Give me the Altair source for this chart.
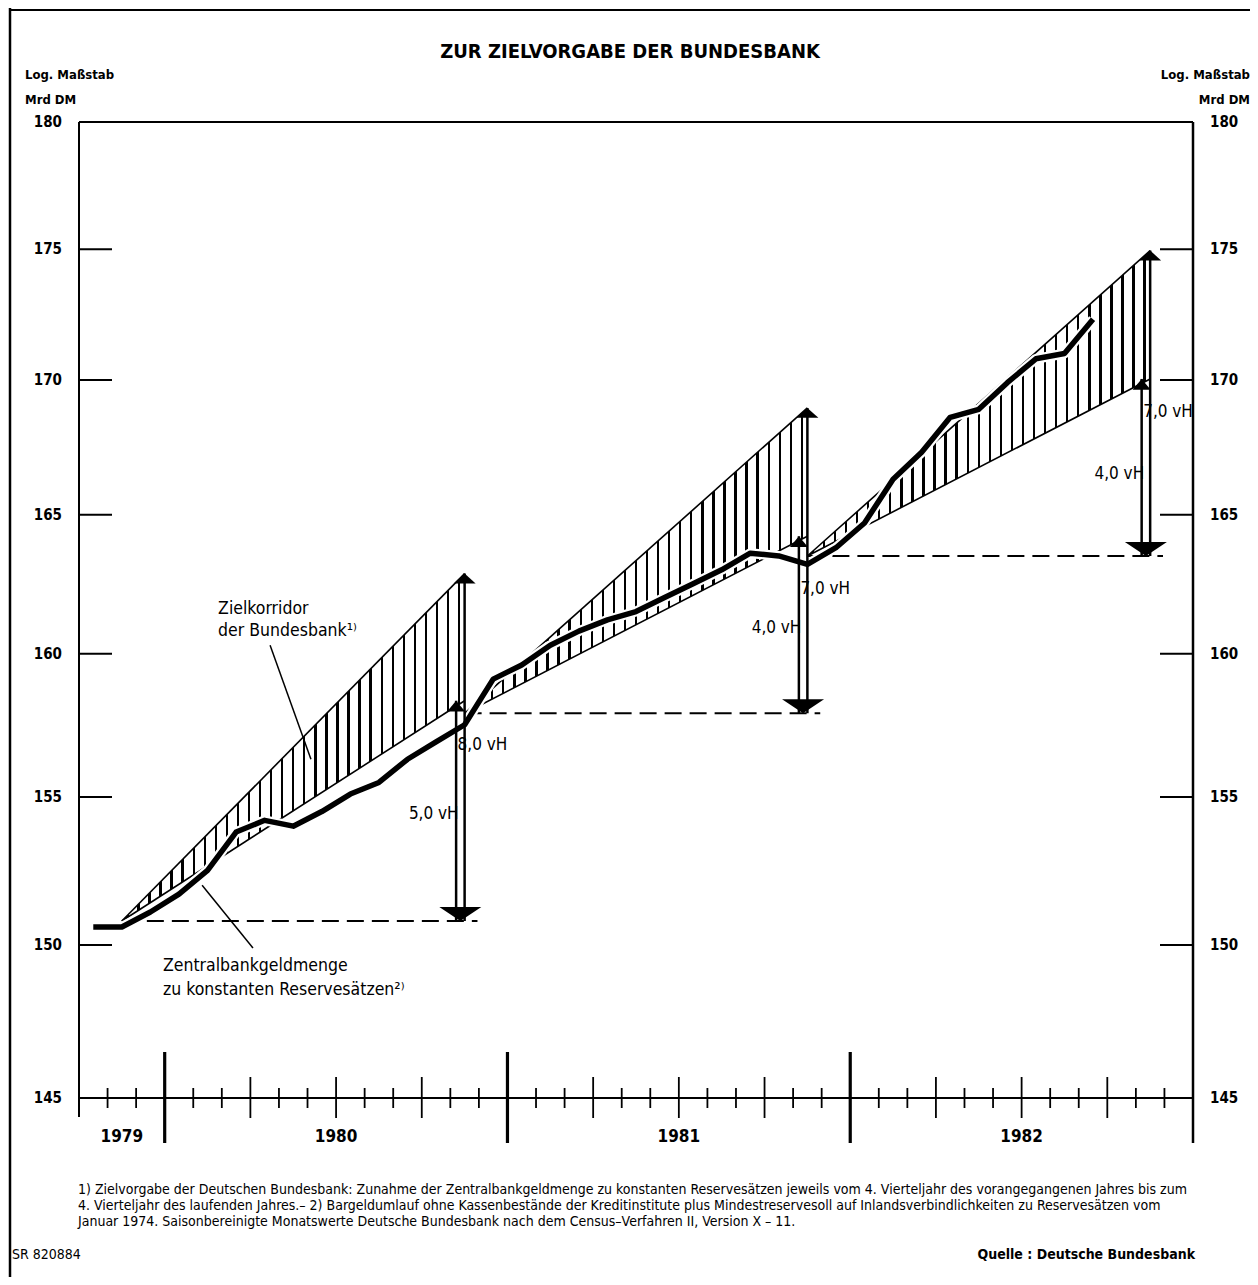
import altair as alt
import pandas as pd

# ---------------- data ----------------
months = [
    "1979-10", "1979-11", "1979-12",
    "1980-01", "1980-02", "1980-03", "1980-04", "1980-05", "1980-06",
    "1980-07", "1980-08", "1980-09", "1980-10", "1980-11", "1980-12",
    "1981-01", "1981-02", "1981-03", "1981-04", "1981-05", "1981-06",
    "1981-07", "1981-08", "1981-09", "1981-10", "1981-11", "1981-12",
    "1982-01", "1982-02", "1982-03", "1982-04", "1982-05", "1982-06",
    "1982-07", "1982-08", "1982-09",
]
zbg = [
    150.6, 150.6, 151.1,
    151.7, 152.5, 153.8, 154.2, 154.0, 154.5, 155.1, 155.5, 156.3, 156.9, 157.5, 159.1,
    159.6, 160.3, 160.8, 161.2, 161.5, 162.0, 162.5, 163.0, 163.6, 163.5, 163.2, 163.8,
    164.7, 166.3, 167.3, 168.6, 168.9, 169.9, 170.8, 171.0, 172.3,
]

corr_years = [1980, 1981, 1982]
corr_base = [150.8, 157.9, 163.5]      # level in Q4 of the preceding year
corr_low = [5.0, 4.0, 4.0]             # target growth, lower bound (vH)
corr_high = [8.0, 7.0, 7.0]            # target growth, upper bound (vH)
label_high_v = [156.8, 162.3, 168.8]   # where the upper-bound label sits
label_low_v = [154.4, 160.9, 166.5]    # where the lower-bound label sits

y_tick_values = [145, 150, 155, 160, 165, 170, 175, 180]
year_names = ["1979", "1980", "1981", "1982"]

title_text = "ZUR ZIELVORGABE DER BUNDESBANK"
unit_lines = ["Log. Maßstab", "Mrd DM"]
footnote_lines = [
    "1) Zielvorgabe der Deutschen Bundesbank: Zunahme der Zentralbankgeldmenge zu konstanten Reservesätzen jeweils vom 4. Vierteljahr des vorangegangenen Jahres bis zum",
    "4. Vierteljahr des laufenden Jahres.– 2) Bargeldumlauf ohne Kassenbestände der Kreditinstitute plus Mindestreservesoll auf Inlandsverbindlichkeiten zu Reservesätzen vom",
    "Januar 1974. Saisonbereinigte Monatswerte Deutsche Bundesbank nach dem Census–Verfahren II, Version X – 11.",
]
source_text = "Quelle : Deutsche Bundesbank"
code_text = "SR 820884"

ann_texts = ["Zielkorridor", "der Bundesbank¹⁾", "Zentralbankgeldmenge", "zu konstanten Reservesätzen²⁾"]
ann_t = [4.87, 4.87, 2.94, 2.94]
ann_v = [161.6, 160.8, 149.3, 148.5]
leader_t = [6.69, 6.09]
leader_v = [160.3, 149.9]
leader_t2 = [8.12, 4.31]
leader_v2 = [156.3, 152.0]

# ---------------- layout / style ----------------
W, H = 1114, 976
FONT = "Liberation Sans Narrow, DejaVu Sans Condensed, Arial Narrow, sans-serif"
BLACK = "#000000"


def midx(s):
    y, m = map(int, s.split("-"))
    return (y - 1979) * 12 + (m - 10)


X_SCALE = alt.Scale(domain=[0, midx("1983-01")], nice=False, zero=False)
Y_SCALE = alt.Scale(type="log", domain=[145, 180], nice=False, zero=False)


def X(field):
    return alt.X(field, type="quantitative", scale=X_SCALE, axis=None)


def Y(field):
    return alt.Y(field, type="quantitative", scale=Y_SCALE, axis=None)


# series
line_df = pd.DataFrame({"t": [midx(m) + 0.5 for m in months], "v": zbg})

# corridors
rows = []
for yr, b, lo, hi in zip(corr_years, corr_base, corr_low, corr_high):
    t0 = midx(f"{yr - 1}-11") + 0.5
    t1 = midx(f"{yr}-11") + 0.5
    rows.append({"year": yr, "t": t0, "lo": b, "hi": b})
    rows.append({"year": yr, "t": t1, "lo": b * (1 + lo / 100), "hi": b * (1 + hi / 100)})
corr_df = pd.DataFrame(rows)

end_rows = []
for yr, b, lo, hi, vh, vl in zip(corr_years, corr_base, corr_low, corr_high, label_high_v, label_low_v):
    t0 = midx(f"{yr - 1}-11") + 0.5
    t1 = midx(f"{yr}-11") + 0.5
    end_rows.append({
        "year": yr, "t0": t0, "t": t1, "t_dash": t1 + 0.45, "base": b,
        "lo": b * (1 + lo / 100), "hi": b * (1 + hi / 100),
        "txt_hi": f"{hi:.1f}".replace(".", ",") + " vH",
        "txt_lo": f"{lo:.1f}".replace(".", ",") + " vH",
        "v_hi": vh, "v_lo": vl,
    })
end_df = pd.DataFrame(end_rows)

# axis ticks
tick_rows = []
for t in range(1, midx("1983-01")):
    mon = (10 + t - 1) % 12 + 1
    kind = "year" if mon == 1 else ("quarter" if mon in (4, 7, 10) else "month")
    tick_rows.append({"t": t, "kind": kind})
tick_df = pd.DataFrame(tick_rows)

year_rows = []
for name in year_names:
    a = max(0, midx(f"{name}-01"))
    b = min(midx("1983-01"), midx(f"{int(name) + 1}-01"))
    year_rows.append({"t": (a + b) / 2, "label": name})
year_df = pd.DataFrame(year_rows)

ytick_df = pd.DataFrame({"v": y_tick_values, "label": [str(v) for v in y_tick_values]})
ytick_inner = ytick_df[(ytick_df.v > 145) & (ytick_df.v < 180)]

ann_df = pd.DataFrame({"t": ann_t, "v": ann_v, "text": ann_texts})
leader_df = pd.DataFrame({"t": leader_t, "v": leader_v, "t2": leader_t2, "v2": leader_v2})
one = pd.DataFrame({"a": [0]})

# hatch gradient (style only)
N, w = 31, 0.0068
stops = [{"offset": 0, "color": "white"}]
for k in range(N):
    c = (k + 0.5) / N
    stops += [
        {"offset": c - w / 2, "color": "white"},
        {"offset": c - w / 2, "color": "black"},
        {"offset": c + w / 2, "color": "black"},
        {"offset": c + w / 2, "color": "white"},
    ]
stops.append({"offset": 1, "color": "white"})
hatch = {"gradient": "linear", "x1": 0, "y1": 0, "x2": 1, "y2": 0, "stops": stops}

layers = []

# frame
layers.append(alt.Chart(one).mark_rule(color=BLACK, strokeWidth=2.5).encode(
    x=alt.value(-69), y=alt.value(-114), y2=alt.value(H + 187)))
layers.append(alt.Chart(one).mark_rule(color=BLACK, strokeWidth=2).encode(
    x=alt.value(-69), x2=alt.value(1173), y=alt.value(-112)))

# corridors
layers.append(alt.Chart(corr_df).mark_area(fill=hatch, opacity=1, strokeWidth=0).encode(
    x=X("t"), y=Y("lo"), y2=alt.Y2("hi"), detail="year:N"))
for fld in ["lo", "hi"]:
    layers.append(alt.Chart(corr_df).mark_line(color=BLACK, strokeWidth=1.6).encode(
        x=X("t"), y=Y(fld), detail="year:N"))

# dashed base lines
layers.append(alt.Chart(end_df).mark_rule(color=BLACK, strokeWidth=2, strokeDash=[17, 8]).encode(
    x=X("t0"), x2=alt.X2("t_dash"), y=Y("base")))

# plot frame / axes
layers.append(alt.Chart(one).mark_rule(color=BLACK, strokeWidth=2).encode(
    x=alt.value(0), y=alt.value(0), y2=alt.value(H + 19)))
layers.append(alt.Chart(one).mark_rule(color=BLACK, strokeWidth=2.5).encode(
    x=alt.value(W), y=alt.value(0), y2=alt.value(H + 45)))
layers.append(alt.Chart(one).mark_rule(color=BLACK, strokeWidth=2).encode(
    x=alt.value(0), x2=alt.value(W), y=alt.value(0)))
layers.append(alt.Chart(one).mark_rule(color=BLACK, strokeWidth=2).encode(
    x=alt.value(0), x2=alt.value(W), y=alt.value(H)))

# x ticks
for kind, half_up, half_dn, sw in [("month", 10, 10, 1.8), ("quarter", 21, 20, 1.8), ("year", 46, 45, 3.2)]:
    layers.append(alt.Chart(tick_df[tick_df.kind == kind]).mark_rule(color=BLACK, strokeWidth=sw).encode(
        x=X("t"), y=alt.value(H - half_up), y2=alt.value(H + half_dn)))

# y ticks (inward) left and right
layers.append(alt.Chart(ytick_inner).mark_rule(color=BLACK, strokeWidth=2).encode(
    x=alt.value(0), x2=alt.value(33), y=Y("v")))
layers.append(alt.Chart(ytick_inner).mark_rule(color=BLACK, strokeWidth=2).encode(
    x=alt.value(W - 33), x2=alt.value(W), y=Y("v")))

# y labels
layers.append(alt.Chart(ytick_df).mark_text(align="right", baseline="middle", font=FONT,
                                             fontSize=15, fontWeight="bold", color=BLACK).encode(
    x=alt.value(-17), y=Y("v"), text="label:N"))
layers.append(alt.Chart(ytick_df).mark_text(align="left", baseline="middle", font=FONT,
                                             fontSize=15, fontWeight="bold", color=BLACK).encode(
    x=alt.value(W + 17), y=Y("v"), text="label:N"))

# year labels
layers.append(alt.Chart(year_df).mark_text(align="center", baseline="middle", font=FONT,
                                            fontSize=17, fontWeight="bold", color=BLACK).encode(
    x=X("t"), y=alt.value(H + 39), text="label:N"))

# series: white halo + thick black line
layers.append(alt.Chart(line_df).mark_line(color="white", strokeWidth=10, strokeJoin="round").encode(
    x=X("t"), y=Y("v")))
layers.append(alt.Chart(line_df).mark_line(color=BLACK, strokeWidth=5.5, strokeJoin="round").encode(
    x=X("t"), y=Y("v")))

# arrows
layers.append(alt.Chart(end_df).mark_rule(color=BLACK, strokeWidth=2.5).encode(
    x=X("t"), y=Y("base"), y2=alt.Y2("hi")))
layers.append(alt.Chart(end_df).mark_rule(color=BLACK, strokeWidth=2.5, xOffset=-8.5).encode(
    x=X("t"), y=Y("base"), y2=alt.Y2("lo")))
layers.append(alt.Chart(end_df).mark_point(shape="M-1,-0.67L1,-0.67L0,0Z", size=1764, filled=True,
                                            color=BLACK, opacity=1, strokeWidth=0, xOffset=-4.3).encode(
    x=X("t"), y=Y("base")))
layers.append(alt.Chart(end_df).mark_point(shape="M-1,0.9L1,0.9L0,0Z", size=484, filled=True,
                                            color=BLACK, opacity=1, strokeWidth=0).encode(
    x=X("t"), y=Y("hi")))
layers.append(alt.Chart(end_df).mark_point(shape="M-1,1.2L1,1.2L0,0Z", size=324, filled=True,
                                            color=BLACK, opacity=1, strokeWidth=0, xOffset=-8.5).encode(
    x=X("t"), y=Y("lo")))

# vH labels
layers.append(alt.Chart(end_df).mark_text(align="left", baseline="middle", font=FONT, fontSize=17,
                                           color=BLACK, xOffset=-7).encode(
    x=X("t"), y=Y("v_hi"), text="txt_hi:N"))
layers.append(alt.Chart(end_df).mark_text(align="right", baseline="middle", font=FONT, fontSize=17,
                                           color=BLACK, xOffset=-6).encode(
    x=X("t"), y=Y("v_lo"), text="txt_lo:N"))

# annotations
layers.append(alt.Chart(leader_df).mark_rule(color=BLACK, strokeWidth=1.5).encode(
    x=X("t"), y=Y("v"), x2=alt.X2("t2"), y2=alt.Y2("v2")))
layers.append(alt.Chart(ann_df).mark_text(align="left", baseline="middle", font=FONT, fontSize=17.5,
                                           color=BLACK).encode(
    x=X("t"), y=Y("v"), text="text:N"))

# title, unit labels, footnotes
def ptext(txt, x, y, align="left", size=13, weight="normal"):
    return alt.Chart(pd.DataFrame({"s": [txt]})).mark_text(
        align=align, baseline="middle", font=FONT, fontSize=size, fontWeight=weight, color=BLACK
    ).encode(x=alt.value(x), y=alt.value(y), text="s:N")

layers.append(ptext(title_text, 551, -70, "center", 20, "bold"))
layers.append(ptext(unit_lines[0], -54, -47, "left", 13, "bold"))
layers.append(ptext(unit_lines[1], -54, -22, "left", 13, "bold"))
layers.append(ptext(unit_lines[0], 1171, -47, "right", 13, "bold"))
layers.append(ptext(unit_lines[1], 1171, -22, "right", 13, "bold"))
for i, ln in enumerate(footnote_lines):
    layers.append(ptext(ln, -1, H + 92 + 16 * i, "left", 14))
layers.append(ptext(source_text, 1116, H + 157, "right", 14, "bold"))
layers.append(ptext(code_text, -67, H + 157, "left", 14))

chart = alt.layer(*layers).properties(
    width=W, height=H,
    padding={"left": 71, "top": 114, "right": 57, "bottom": 179},
    autosize=alt.AutoSizeParams(type="none"),
).configure_view(stroke=None).configure(background="white")

chart.save("out.html", embed_options={"renderer": "svg", "actions": False})
